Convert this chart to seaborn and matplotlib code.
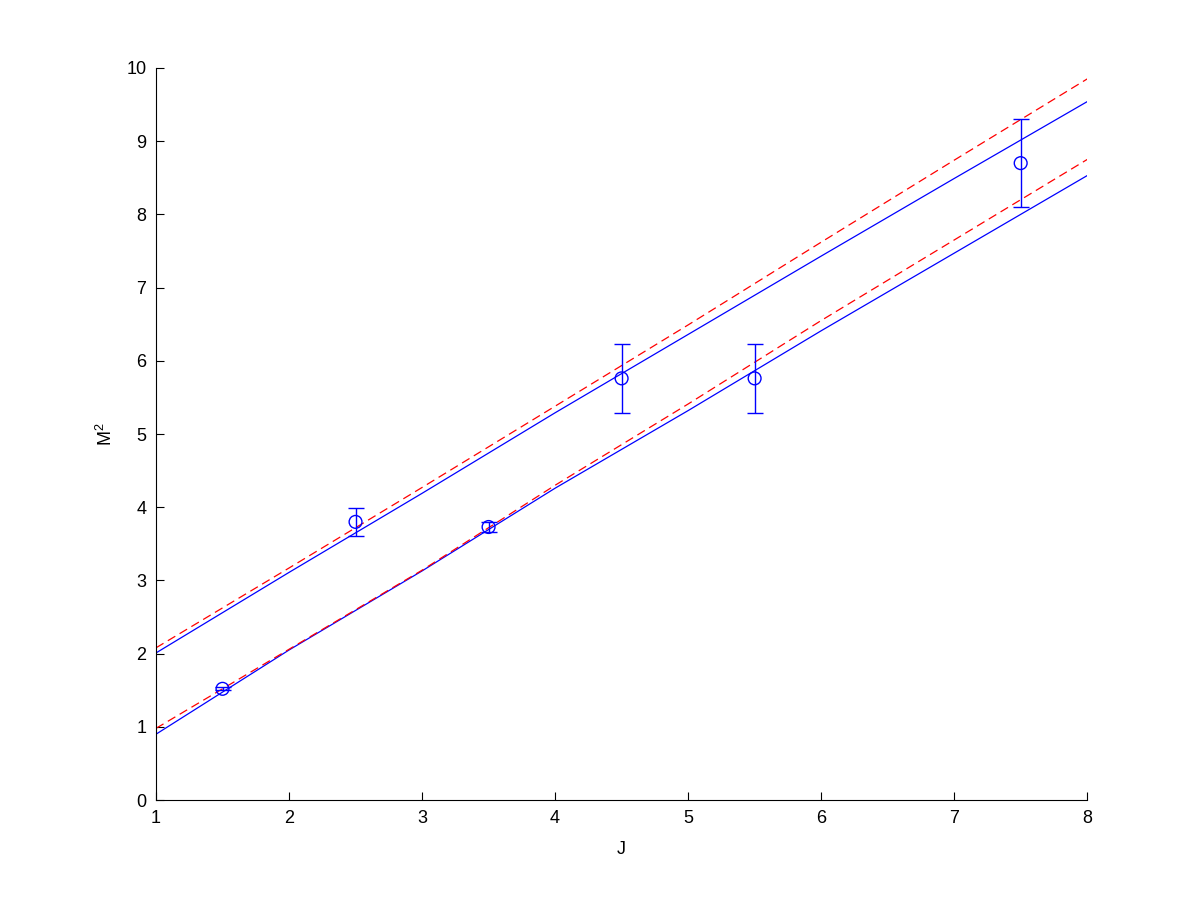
import matplotlib
matplotlib.use("Agg")
import matplotlib.pyplot as plt
import numpy as np
import pandas as pd
import seaborn as sns

# values at integer J
j_grid = [1, 2, 3, 4, 5, 6, 7, 8]
upper_fit = [2.01, 3.11, 4.19, 5.29, 6.36, 7.43, 8.49, 9.54]
upper_alt = [2.08, 3.17, 4.27, 5.38, 6.49, 7.62, 8.74, 9.85]
lower_fit = [0.90, 2.05, 3.13, 4.26, 5.32, 6.41, 7.47, 8.53]
lower_alt = [0.98, 2.06, 3.14, 4.30, 5.41, 6.55, 7.65, 8.75]

# measured states
j_points = [1.5, 2.5, 3.5, 4.5, 5.5, 7.5]
m2_points = [1.52, 3.80, 3.73, 5.76, 5.76, 8.70]
m2_errors = [0.02, 0.19, 0.07, 0.47, 0.47, 0.60]

sns.set_style("ticks")
plt.rcParams['font.family'] = ['Liberation Sans', 'DejaVu Sans']
plt.rcParams['mathtext.fontset'] = 'custom'
plt.rcParams['mathtext.rm'] = 'Liberation Sans'
plt.rcParams['mathtext.it'] = 'Liberation Sans'
plt.rcParams['text.color'] = 'black'
plt.rcParams['axes.labelcolor'] = 'black'
plt.rcParams['xtick.color'] = 'black'
plt.rcParams['ytick.color'] = 'black'

fig = plt.figure(figsize=(12, 9), dpi=100)
ax = fig.add_axes([0.13, 0.111, 0.776, 0.8135])

# fitted trajectories
for vals in (upper_fit, lower_fit):
    sns.lineplot(x=j_grid, y=vals, ax=ax, color='blue', linewidth=0.9)
for vals in (upper_alt, lower_alt):
    sns.lineplot(x=j_grid, y=vals, ax=ax, color='red', linewidth=0.9,
                 linestyle=(0, (7, 4)))

# data points with error bars
ax.errorbar(j_points, m2_points, yerr=m2_errors, fmt='none', ecolor='blue',
            elinewidth=1.0, capsize=6, capthick=1.0, zorder=3)
sns.scatterplot(x=j_points, y=m2_points, ax=ax, marker='o', s=85,
                facecolor='none', edgecolor='blue', linewidth=1.0, zorder=4)

ax.set_xlim(1, 8)
ax.set_ylim(0, 10)
ax.set_xticks(range(1, 9))
ax.set_yticks(range(0, 11))
ax.tick_params(direction='in', length=6, width=0.8, labelsize=13, pad=7)
for side in ('top', 'right'):
    ax.spines[side].set_visible(False)
for side in ('left', 'bottom'):
    ax.spines[side].set_linewidth(0.8)
    ax.spines[side].set_color('black')

ax.set_xlabel('J', fontsize=13, labelpad=10)
ax.set_ylabel('M$^2$', fontsize=13, labelpad=7)

fig.savefig('out.png', dpi=100)
